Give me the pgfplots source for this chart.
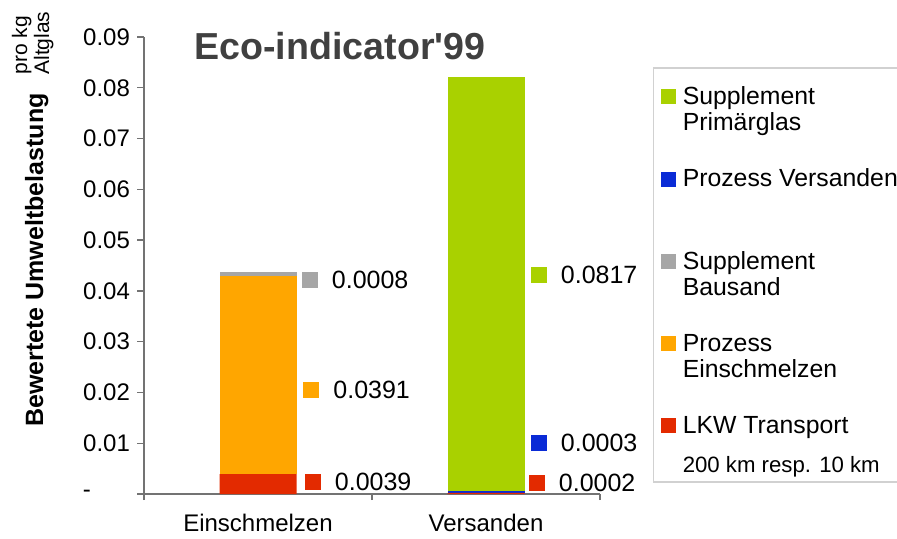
\documentclass[border=0pt]{standalone}
\usepackage{fontspec}
\setmainfont{Liberation Sans}
\usepackage{pgfplots}
\pgfplotsset{compat=1.18}
\definecolor{cGreen}{HTML}{A9D100}
\definecolor{cBlue}{HTML}{0A2BD6}
\definecolor{cGray}{HTML}{A6A6A6}
\definecolor{cOrange}{HTML}{FFA600}
\definecolor{cRed}{HTML}{E32A00}
\definecolor{titlegray}{HTML}{404040}
% legend entry: #1 = depth strut below last line, #2 = text
\newcommand{\lent}[2]{\parbox[t]{125pt}{\rule{0pt}{9.5pt}#2\rule[-#1]{0pt}{0pt}}}
\begin{document}
\begin{tikzpicture}
\useasboundingbox (0,0) rectangle (448.5pt,269pt);
\begin{axis}[
  at={(72pt,22pt)}, anchor=south west,
  scale only axis, width=228pt, height=228.5pt,
  xmin=-0.5, xmax=1.5, ymin=0, ymax=0.09,
  clip=false,
  ybar stacked, bar width=38.5pt,
  axis lines*=left,
  axis line style={black!55, line width=0.65pt},
  tick align=outside,
  tick style={black!55, line width=0.65pt},
  major tick length=3.5pt, minor tick length=3pt,
  xtick={0,1}, xticklabels={Einschmelzen,Versanden},
  major x tick style={draw=none},
  minor xtick={-0.5,0.5,1.5},
  xticklabel style={yshift=-3pt},
  scaled y ticks=false,
  ytick={0,0.01,0.02,0.03,0.04,0.05,0.06,0.07,0.08,0.09},
  yticklabels={-\hspace*{19.5pt},0.01,0.02,0.03,0.04,0.05,0.06,0.07,0.08,0.09},
  ticklabel style={font=\fontsize{12}{14}\selectfont},
  reverse legend,
  legend image code/.code={\fill[#1, draw=none] (0pt,0.15pt) rectangle (7.5pt,7.65pt);},
  legend style={at={(1.1162,0.9344)}, anchor=north west, draw=black!18, line width=0.75pt,
    inner xsep=3.75pt, inner ysep=2.5pt, row sep=0pt, column sep=1.5pt,
    cells={anchor=base west},
    nodes={inner xsep=1.75pt, inner ysep=0pt, text depth=},
    font=\fontsize{12.4}{13}\selectfont},
]
\addplot[fill=cRed, draw=none] coordinates {(0,0.0039) (1,0.0002)};
\addlegendentry{\parbox[t]{125pt}{\rule{0pt}{9.5pt}LKW Transport\\[6.5pt]{\fontsize{11.1}{13}\selectfont 200 km resp. 10 km}}}
\addplot[fill=cOrange, draw=none] coordinates {(0,0.0391) (1,0)};
\addlegendentry{\lent{18.6pt}{Prozess\\Einschmelzen}}
\addplot[fill=cGray, draw=none] coordinates {(0,0.0008) (1,0)};
\addlegendentry{\lent{18.6pt}{Supplement\\Bausand}}
\addplot[fill=cBlue, draw=none] coordinates {(0,0) (1,0.0003)};
\addlegendentry{\lent{31.6pt}{Prozess Versanden}}
\addplot[fill=cGreen, draw=none] coordinates {(0,0) (1,0.0817)};
\addlegendentry{\parbox[t]{125pt}{\rule{0pt}{16pt}Supplement\\Primärglas\rule[-18.6pt]{0pt}{0pt}}}
\end{axis}
\begin{axis}[
  at={(72pt,22pt)}, anchor=south west,
  scale only axis, width=228pt, height=228.5pt,
  xmin=-0.5, xmax=1.5, ymin=0, ymax=0.09,
  hide axis, clip=false,
  nodes near coords, point meta=explicit symbolic,
  nodes near coords style={anchor=west, inner sep=0pt, xshift=11pt,
    font=\fontsize{12.5}{14}\selectfont, text=black},
]
\addplot[cGray, only marks, mark=square*, mark size=3.75pt] coordinates {(0.2259,0.0422) [0.0008]};
\addplot[cOrange, only marks, mark=square*, mark size=3.75pt] coordinates {(0.2325,0.0205) [0.0391]};
\addplot[cRed, only marks, mark=square*, mark size=3.75pt] coordinates {(0.2390,0.0024) [0.0039]};
\addplot[cGreen, only marks, mark=square*, mark size=3.75pt] coordinates {(1.2303,0.0432) [0.0817]};
\addplot[cBlue, only marks, mark=square*, mark size=3.75pt] coordinates {(1.2303,0.0101) [0.0003]};
\addplot[cRed, only marks, mark=square*, mark size=3.75pt] coordinates {(1.2215,0.0021) [0.0002]};
\end{axis}
\node[anchor=base, font=\bfseries\fontsize{18.8}{20}\selectfont, text=titlegray] at (170pt,239.5pt) {Eco-indicator\textquotesingle 99};
\node[rotate=90, anchor=base, font=\bfseries\fontsize{12.5}{14}\selectfont] at (21.5pt,139pt) {Bewertete Umweltbelastung};
\node[rotate=90, anchor=base west, inner sep=0pt, font=\fontsize{10.5}{12}\selectfont] at (13.5pt,231.5pt) {pro kg};
\node[rotate=90, anchor=base west, inner sep=0pt, font=\fontsize{10.5}{12}\selectfont] at (24.5pt,231.5pt) {Altglas};
\end{tikzpicture}
\end{document}
